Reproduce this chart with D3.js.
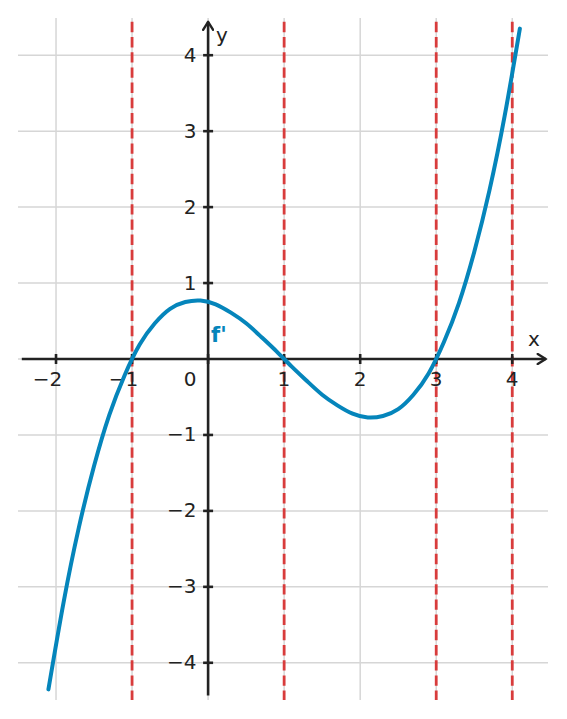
<!DOCTYPE html>
<html>
<head>
<meta charset="utf-8">
<script src="https://cdn.jsdelivr.net/npm/d3@7"></script>
<style>
	body { margin: 0; background: #fff; }
	svg { display: block; font-family: 'DejaVu Sans', sans-serif; }
</style>
</head>
<body>
<svg id="chart" width="567" height="719"></svg>
<script>
// values
var curveX = [-2.1, -1.9, -1.7, -1.5, -1.3, -1.1, -0.9, -0.7, -0.5, -0.3, -0.1, 0.1, 0.3, 0.5, 0.7, 0.9,
	1.1, 1.3, 1.5, 1.7, 1.9, 2.1, 2.3, 2.5, 2.7, 2.9, 3.1, 3.3, 3.5, 3.7, 3.9, 4.1];
var curveY = [-4.35, -3.2, -2.22, -1.41, -0.74, -0.22, 0.19, 0.47, 0.66, 0.75, 0.77, 0.72, 0.61, 0.47, 0.29, 0.1,
	-0.1, -0.29, -0.47, -0.61, -0.72, -0.77, -0.75, -0.66, -0.47, -0.19, 0.22, 0.74, 1.41, 2.22, 3.2, 4.35];
var criticalX = [-1, 1, 3, 4];
var xTicks = [-2, -1, 1, 2, 3, 4];
var yTicks = [-4, -3, -2, -1, 1, 2, 3, 4];
var gridX = [-2, -1, 0, 1, 2, 3, 4];
var gridY = [-4, -3, -2, -1, 0, 1, 2, 3, 4];

var svg = d3.select('svg#chart');

var xScale = d3.scaleLinear().domain([-2.5, 4.47]).range([18, 548]);
var yScale = d3.scaleLinear().domain([-4.49, 4.49]).range([700, 18]);

var axisColor = '#222';
var blue = '#0585bb';
var red = '#d83c3c';

// grid
svg.append('g')
	.selectAll('line')
	.data(gridX)
	.enter()
	.append('line')
	.attr('x1', function (d) { return xScale(d); })
	.attr('x2', function (d) { return xScale(d); })
	.attr('y1', yScale(4.49))
	.attr('y2', yScale(-4.49))
	.style('stroke', '#d6d6d6')
	.style('stroke-width', '1.5px');

svg.append('g')
	.selectAll('line')
	.data(gridY)
	.enter()
	.append('line')
	.attr('x1', xScale(-2.5))
	.attr('x2', xScale(4.47))
	.attr('y1', function (d) { return yScale(d); })
	.attr('y2', function (d) { return yScale(d); })
	.style('stroke', '#d6d6d6')
	.style('stroke-width', '1.5px');

// dashed verticals
svg.append('g')
	.selectAll('line')
	.data(criticalX)
	.enter()
	.append('line')
	.attr('x1', function (d) { return xScale(d); })
	.attr('x2', function (d) { return xScale(d); })
	.attr('y1', yScale(4.44))
	.attr('y2', yScale(-4.49))
	.style('stroke', red)
	.style('stroke-width', '2.8px')
	.style('stroke-dasharray', '10.4,4.8');

// axes
var arrow = svg.append('defs').append('marker')
	.attr('id', 'arrow')
	.attr('viewBox', '0 0 12 12')
	.attr('refX', 10)
	.attr('refY', 6)
	.attr('markerWidth', 12)
	.attr('markerHeight', 12)
	.attr('markerUnits', 'userSpaceOnUse')
	.attr('orient', 'auto');
arrow.append('path')
	.attr('d', 'M2,1 L10,6 L2,11')
	.style('fill', 'none')
	.style('stroke', axisColor)
	.style('stroke-width', '2.4px')
	.style('stroke-linecap', 'round')
	.style('stroke-linejoin', 'round');

svg.append('line')
	.attr('x1', xScale(-2.45))
	.attr('x2', xScale(4.44))
	.attr('y1', yScale(0))
	.attr('y2', yScale(0))
	.style('stroke', axisColor)
	.style('stroke-width', '2.6px')
	.attr('marker-end', 'url(#arrow)');

svg.append('line')
	.attr('x1', xScale(0))
	.attr('x2', xScale(0))
	.attr('y1', yScale(-4.43))
	.attr('y2', yScale(4.44))
	.style('stroke', axisColor)
	.style('stroke-width', '2.6px')
	.attr('marker-end', 'url(#arrow)');

// ticks
svg.append('g')
	.selectAll('line')
	.data(xTicks.concat([0]))
	.enter()
	.append('line')
	.attr('x1', function (d) { return xScale(d); })
	.attr('x2', function (d) { return xScale(d); })
	.attr('y1', yScale(0) - 5)
	.attr('y2', yScale(0) + 5)
	.style('stroke', axisColor)
	.style('stroke-width', '2.6px');

svg.append('g')
	.selectAll('line')
	.data(yTicks)
	.enter()
	.append('line')
	.attr('x1', xScale(0) - 5)
	.attr('x2', xScale(0) + 5)
	.attr('y1', function (d) { return yScale(d); })
	.attr('y2', function (d) { return yScale(d); })
	.style('stroke', axisColor)
	.style('stroke-width', '2.6px');

// tick labels
function label(d) {
	return d < 0 ? '\u2212' + Math.abs(d) : String(d);
}

svg.append('g')
	.selectAll('text')
	.data(xTicks)
	.enter()
	.append('text')
	.attr('x', function (d) { return xScale(d) + 6.2; })
	.attr('y', yScale(0) + 26.5)
	.style('text-anchor', 'end')
	.style('font-size', '20px')
	.style('fill', axisColor)
	.text(label);

svg.append('text')
	.attr('x', xScale(0) - 11.5)
	.attr('y', yScale(0) + 26.5)
	.style('text-anchor', 'end')
	.style('font-size', '20px')
	.style('fill', axisColor)
	.text('0');

svg.append('g')
	.selectAll('text')
	.data(yTicks)
	.enter()
	.append('text')
	.attr('x', xScale(0) - 11.5)
	.attr('y', function (d) { return yScale(d) + 6.5; })
	.style('text-anchor', 'end')
	.style('font-size', '20px')
	.style('fill', axisColor)
	.text(label);

// axis names
svg.append('text')
	.attr('x', 534)
	.attr('y', 346)
	.style('text-anchor', 'middle')
	.style('font-size', '20px')
	.style('fill', axisColor)
	.text('x');

svg.append('text')
	.attr('x', 216)
	.attr('y', 42)
	.style('font-size', '20px')
	.style('fill', axisColor)
	.text('y');

// curve
var points = curveX.map(function (d, i) {
	return [d, curveY[i]];
});

var line = d3.line()
	.x(function (d) { return xScale(d[0]); })
	.y(function (d) { return yScale(d[1]); })
	.curve(d3.curveNatural);

svg.append('path')
	.datum(points)
	.attr('d', line)
	.style('fill', 'none')
	.style('stroke', blue)
	.style('stroke-width', '4px')
	.style('stroke-linecap', 'round');

svg.append('text')
	.attr('x', 211)
	.attr('y', 342)
	.style('font-size', '21px')
	.style('font-weight', 'bold')
	.style('fill', blue)
	.text("f'");
</script>
</body>
</html>
